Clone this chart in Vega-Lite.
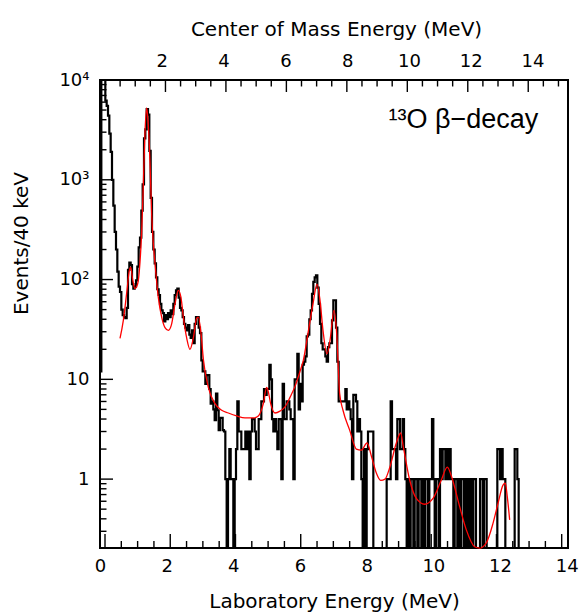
{
  "$schema": "https://vega.github.io/schema/vega-lite/v6.json",
  "width": 468,
  "height": 468,
  "autosize": {"type": "none"},
  "padding": {"left": 100, "top": 80, "right": 15, "bottom": 64},
  "background": "white",
  "config": {
    "view": {"stroke": "black", "strokeWidth": 2},
    "rule": {"color": "black", "strokeWidth": 1.4},
    "bar": {"color": "black", "opacity": 1},
    "axis": {
      "domain": false,
      "ticks": false,
      "grid": false,
      "labelFont": "DejaVu Sans",
      "labelFontSize": 18,
      "labelColor": "black",
      "titleFont": "DejaVu Sans",
      "titleFontSize": 20,
      "titleFontWeight": "normal",
      "titleColor": "black"
    }
  },
  "datasets": {
    "hist": [
      {"e":0.00,"c":12},{"e":0.04,"c":20000},{"e":0.08,"c":15000},{"e":0.12,"c":11000},{"e":0.16,"c":6200},{"e":0.20,"c":5500},{"e":0.24,"c":4400},{"e":0.28,"c":2900},{"e":0.32,"c":1900},{"e":0.36,"c":1000},
      {"e":0.40,"c":550},{"e":0.44,"c":300},{"e":0.48,"c":200},{"e":0.52,"c":120},{"e":0.56,"c":85},{"e":0.60,"c":75},{"e":0.64,"c":50},{"e":0.68,"c":44},{"e":0.72,"c":42},{"e":0.76,"c":41},
      {"e":0.80,"c":52},{"e":0.84,"c":125},{"e":0.88,"c":148},{"e":0.92,"c":140},{"e":0.96,"c":90},{"e":1.00,"c":81},{"e":1.04,"c":85},{"e":1.08,"c":98},{"e":1.12,"c":135},{"e":1.16,"c":210},
      {"e":1.20,"c":263},{"e":1.24,"c":490},{"e":1.28,"c":900},{"e":1.32,"c":2600},{"e":1.36,"c":3200},{"e":1.40,"c":5100},{"e":1.44,"c":4500},{"e":1.48,"c":1950},{"e":1.52,"c":660},{"e":1.56,"c":300},
      {"e":1.60,"c":200},{"e":1.64,"c":145},{"e":1.68,"c":105},{"e":1.72,"c":80},{"e":1.76,"c":70},{"e":1.80,"c":57},{"e":1.84,"c":49},{"e":1.88,"c":46},{"e":1.92,"c":38},{"e":1.96,"c":44},
      {"e":2.00,"c":40},{"e":2.04,"c":46},{"e":2.08,"c":42},{"e":2.12,"c":49},{"e":2.16,"c":45},{"e":2.20,"c":57},{"e":2.24,"c":70},{"e":2.28,"c":78},{"e":2.32,"c":81},{"e":2.36,"c":66},
      {"e":2.40,"c":52},{"e":2.44,"c":49},{"e":2.48,"c":42},{"e":2.52,"c":36},{"e":2.56,"c":33},{"e":2.60,"c":31},{"e":2.64,"c":35},{"e":2.68,"c":28},{"e":2.72,"c":26},{"e":2.76,"c":31},
      {"e":2.80,"c":23},{"e":2.84,"c":36},{"e":2.88,"c":42},{"e":2.92,"c":42},{"e":2.96,"c":33},{"e":3.00,"c":29},{"e":3.04,"c":15.5},{"e":3.08,"c":12},{"e":3.12,"c":12},{"e":3.16,"c":9},
      {"e":3.20,"c":11},{"e":3.24,"c":11},{"e":3.28,"c":8},{"e":3.32,"c":5.7},{"e":3.36,"c":6},{"e":3.40,"c":5},{"e":3.44,"c":3.9},{"e":3.48,"c":7.2},{"e":3.52,"c":4.9},{"e":3.56,"c":3.1},
      {"e":3.60,"c":4.1},{"e":3.64,"c":4.1},{"e":3.68,"c":3.1},{"e":3.72,"c":3},{"e":3.76,"c":1},{"e":3.80,"c":0},{"e":3.84,"c":1},{"e":3.88,"c":2},{"e":3.92,"c":1},{"e":3.96,"c":1},
      {"e":4.00,"c":0},{"e":4.04,"c":1},{"e":4.08,"c":2},{"e":4.12,"c":6},{"e":4.16,"c":3},{"e":4.20,"c":3},{"e":4.24,"c":2},{"e":4.28,"c":2},{"e":4.32,"c":2},{"e":4.36,"c":3},
      {"e":4.40,"c":2},{"e":4.44,"c":3},{"e":4.48,"c":1},{"e":4.52,"c":3},{"e":4.56,"c":4},{"e":4.60,"c":4},{"e":4.64,"c":3},{"e":4.68,"c":2},{"e":4.72,"c":2},{"e":4.76,"c":4},
      {"e":4.80,"c":4},{"e":4.84,"c":6},{"e":4.88,"c":6},{"e":4.92,"c":8},{"e":4.96,"c":7},{"e":5.00,"c":8},{"e":5.04,"c":8},{"e":5.08,"c":14},{"e":5.12,"c":10},{"e":5.16,"c":4},
      {"e":5.20,"c":3},{"e":5.24,"c":4},{"e":5.28,"c":3},{"e":5.32,"c":2},{"e":5.36,"c":4},{"e":5.40,"c":4},{"e":5.44,"c":1},{"e":5.48,"c":9},{"e":5.52,"c":4},{"e":5.56,"c":4},
      {"e":5.60,"c":6},{"e":5.64,"c":6},{"e":5.68,"c":5},{"e":5.72,"c":4},{"e":5.76,"c":4},{"e":5.80,"c":1},{"e":5.84,"c":10},{"e":5.88,"c":10},{"e":5.92,"c":18},{"e":5.96,"c":5},
      {"e":6.00,"c":9},{"e":6.04,"c":6},{"e":6.08,"c":14},{"e":6.12,"c":15},{"e":6.16,"c":17},{"e":6.20,"c":27},{"e":6.24,"c":28},{"e":6.28,"c":40},{"e":6.32,"c":49},{"e":6.36,"c":72},
      {"e":6.40,"c":95},{"e":6.44,"c":105},{"e":6.48,"c":110},{"e":6.52,"c":83},{"e":6.56,"c":57},{"e":6.60,"c":36},{"e":6.64,"c":23},{"e":6.68,"c":20},{"e":6.72,"c":20},{"e":6.76,"c":17},
      {"e":6.80,"c":15},{"e":6.84,"c":21},{"e":6.88,"c":23},{"e":6.92,"c":23},{"e":6.96,"c":39},{"e":7.00,"c":62},{"e":7.04,"c":62},{"e":7.08,"c":33},{"e":7.12,"c":15},{"e":7.16,"c":6},
      {"e":7.20,"c":6},{"e":7.24,"c":6},{"e":7.28,"c":6},{"e":7.32,"c":6},{"e":7.36,"c":8},{"e":7.40,"c":5},{"e":7.44,"c":6},{"e":7.48,"c":5},{"e":7.52,"c":4},{"e":7.56,"c":1},
      {"e":7.60,"c":7},{"e":7.64,"c":7},{"e":7.68,"c":6},{"e":7.72,"c":3},{"e":7.76,"c":4},{"e":7.80,"c":3},{"e":7.84,"c":1},{"e":7.88,"c":0},{"e":7.92,"c":2},{"e":7.96,"c":0},
      {"e":8.00,"c":2},{"e":8.04,"c":3},{"e":8.08,"c":3},{"e":8.12,"c":3},{"e":8.16,"c":3},{"e":8.20,"c":0},{"e":8.24,"c":0},{"e":8.28,"c":0},{"e":8.32,"c":0},{"e":8.36,"c":0},
      {"e":8.40,"c":0},{"e":8.44,"c":0},{"e":8.48,"c":0},{"e":8.52,"c":0},{"e":8.56,"c":0},{"e":8.60,"c":1},{"e":8.64,"c":1},{"e":8.68,"c":1},{"e":8.72,"c":6},{"e":8.76,"c":2},
      {"e":8.80,"c":2},{"e":8.84,"c":2},{"e":8.88,"c":1},{"e":8.92,"c":4},{"e":8.96,"c":4},{"e":9.00,"c":2},{"e":9.04,"c":2},{"e":9.08,"c":4},{"e":9.12,"c":2},{"e":9.16,"c":1},
      {"e":9.20,"c":0},{"e":9.24,"c":1},{"e":9.28,"c":0},{"e":9.32,"c":1},{"e":9.36,"c":1},{"e":9.40,"c":0},{"e":9.44,"c":1},{"e":9.48,"c":1},{"e":9.52,"c":0},{"e":9.56,"c":1},
      {"e":9.60,"c":1},{"e":9.64,"c":0},{"e":9.68,"c":1},{"e":9.72,"c":0},{"e":9.76,"c":1},{"e":9.80,"c":1},{"e":9.84,"c":0},{"e":9.88,"c":1},{"e":9.92,"c":1},{"e":9.96,"c":4},
      {"e":10.00,"c":1},{"e":10.04,"c":0},{"e":10.08,"c":1},{"e":10.12,"c":1},{"e":10.16,"c":0},{"e":10.20,"c":2},{"e":10.24,"c":1},{"e":10.28,"c":2},{"e":10.32,"c":2},{"e":10.36,"c":1},
      {"e":10.40,"c":2},{"e":10.44,"c":1},{"e":10.48,"c":2},{"e":10.52,"c":1},{"e":10.56,"c":1},{"e":10.60,"c":0},{"e":10.64,"c":1},{"e":10.68,"c":1},{"e":10.72,"c":0},{"e":10.76,"c":1},
      {"e":10.80,"c":0},{"e":10.84,"c":1},{"e":10.88,"c":1},{"e":10.92,"c":0},{"e":10.96,"c":1},{"e":11.00,"c":0},{"e":11.04,"c":1},{"e":11.08,"c":0},{"e":11.12,"c":1},{"e":11.16,"c":0},
      {"e":11.20,"c":1},{"e":11.24,"c":1},{"e":11.28,"c":0},{"e":11.32,"c":0},{"e":11.36,"c":0},{"e":11.40,"c":1},{"e":11.44,"c":1},{"e":11.48,"c":0},{"e":11.52,"c":1},{"e":11.56,"c":1},
      {"e":11.60,"c":0},{"e":11.64,"c":0},{"e":11.68,"c":0},{"e":11.72,"c":0},{"e":11.76,"c":0},{"e":11.80,"c":0},{"e":11.84,"c":0},{"e":11.88,"c":0},{"e":11.92,"c":2},{"e":11.96,"c":2},
      {"e":12.00,"c":1},{"e":12.04,"c":2},{"e":12.08,"c":1},{"e":12.12,"c":1},{"e":12.16,"c":0},{"e":12.20,"c":0},{"e":12.24,"c":0},{"e":12.28,"c":0},{"e":12.32,"c":0},{"e":12.36,"c":0},
      {"e":12.40,"c":0},{"e":12.44,"c":2},{"e":12.48,"c":2},{"e":12.52,"c":1},{"e":12.56,"c":0},{"e":12.60,"c":0}
    ],
    "fit": [
      {"e":0.60,"f":25.7},{"e":0.70,"f":39},{"e":0.80,"f":73},{"e":0.88,"f":123},{"e":0.92,"f":133},{"e":0.98,"f":100},{"e":1.05,"f":81},{"e":1.10,"f":85},{"e":1.15,"f":98},{"e":1.20,"f":150},
      {"e":1.25,"f":300},{"e":1.30,"f":900},{"e":1.35,"f":3000},{"e":1.40,"f":5250},{"e":1.45,"f":3500},{"e":1.50,"f":1500},{"e":1.55,"f":450},{"e":1.60,"f":230},{"e":1.65,"f":145},{"e":1.75,"f":66},
      {"e":1.85,"f":42},{"e":1.95,"f":33},{"e":2.05,"f":31},{"e":2.15,"f":36},{"e":2.25,"f":57},{"e":2.35,"f":78},{"e":2.43,"f":66},{"e":2.50,"f":42},{"e":2.60,"f":26},{"e":2.70,"f":20},
      {"e":2.80,"f":26},{"e":2.90,"f":41},{"e":2.95,"f":42},{"e":3.03,"f":29},{"e":3.10,"f":16},{"e":3.25,"f":8.3},{"e":3.45,"f":5.7},{"e":3.65,"f":4.9},{"e":3.85,"f":4.6},{"e":4.10,"f":4.3},
      {"e":4.35,"f":4.1},{"e":4.60,"f":4.1},{"e":4.75,"f":4.3},{"e":4.90,"f":5.7},{"e":5.00,"f":8.3},{"e":5.05,"f":7.5},{"e":5.12,"f":5.7},{"e":5.25,"f":4.6},{"e":5.40,"f":4.8},{"e":5.55,"f":5.3},
      {"e":5.70,"f":6.6},{"e":5.85,"f":8.5},{"e":6.00,"f":12},{"e":6.10,"f":15.5},{"e":6.24,"f":29},{"e":6.39,"f":57},{"e":6.51,"f":90},{"e":6.60,"f":62},{"e":6.69,"f":31},{"e":6.81,"f":18},
      {"e":6.90,"f":24.5},{"e":7.02,"f":49},{"e":7.10,"f":29},{"e":7.19,"f":7.2},{"e":7.29,"f":4.9},{"e":7.49,"f":3.1},{"e":7.69,"f":2.0},{"e":7.84,"f":1.95},{"e":8.01,"f":2.3},{"e":8.15,"f":1.66},
      {"e":8.29,"f":1.15},{"e":8.42,"f":0.97},{"e":8.55,"f":1.0},{"e":8.69,"f":1.3},{"e":8.89,"f":2.3},{"e":9.02,"f":2.9},{"e":9.10,"f":2.1},{"e":9.29,"f":0.98},{"e":9.49,"f":0.64},{"e":9.74,"f":0.56},
      {"e":9.99,"f":0.64},{"e":10.24,"f":0.98},{"e":10.42,"f":1.32},{"e":10.55,"f":1.05},{"e":10.79,"f":0.53},{"e":10.99,"f":0.31},{"e":11.24,"f":0.21},{"e":11.39,"f":0.2},{"e":11.59,"f":0.23},{"e":11.79,"f":0.36},
      {"e":11.94,"f":0.57},{"e":12.09,"f":0.87},{"e":12.16,"f":0.91},{"e":12.22,"f":0.66},{"e":12.29,"f":0.39}
    ],
    "cm": [{"cm":0},{"cm":15.15}],
    "note": [{"label":"¹³O β−decay"}],
    "labMajor": [{"v":0},{"v":2},{"v":4},{"v":6},{"v":8},{"v":10},{"v":12},{"v":14}],
    "labMinor": [{"v":0.5},{"v":1},{"v":1.5},{"v":2.5},{"v":3},{"v":3.5},{"v":4.5},{"v":5},{"v":5.5},{"v":6.5},{"v":7},{"v":7.5},{"v":8.5},{"v":9},{"v":9.5},{"v":10.5},{"v":11},{"v":11.5},{"v":12.5},{"v":13},{"v":13.5}],
    "cmMajor": [{"v":2},{"v":4},{"v":6},{"v":8},{"v":10},{"v":12},{"v":14}],
    "cmMinor": [{"v":0.5},{"v":1},{"v":1.5},{"v":2.5},{"v":3},{"v":3.5},{"v":4.5},{"v":5},{"v":5.5},{"v":6.5},{"v":7},{"v":7.5},{"v":8.5},{"v":9},{"v":9.5},{"v":10.5},{"v":11},{"v":11.5},{"v":12.5},{"v":13},{"v":13.5},{"v":14.5},{"v":15}],
    "yMajor": [{"v":1},{"v":10},{"v":100},{"v":1000}],
    "yMinor": [{"v":0.3},{"v":0.4},{"v":0.5},{"v":0.6},{"v":0.7},{"v":0.8},{"v":0.9},{"v":2},{"v":3},{"v":4},{"v":5},{"v":6},{"v":7},{"v":8},{"v":9},{"v":20},{"v":30},{"v":40},{"v":50},{"v":60},{"v":70},{"v":80},{"v":90},{"v":200},{"v":300},{"v":400},{"v":500},{"v":600},{"v":700},{"v":800},{"v":900},{"v":2000},{"v":3000},{"v":4000},{"v":5000},{"v":6000},{"v":7000},{"v":8000},{"v":9000}]
  },
  "layer": [
    {
      "data": {"name": "hist"},
      "mark": {"type": "line", "interpolate": "step-after", "color": "black", "strokeWidth": 2.2, "invalid": "show"},
      "encoding": {
        "x": {"field": "e", "type": "quantitative",
          "scale": {"domain": [0, 14.04], "nice": false, "zero": false},
          "axis": {"orient": "bottom", "values": [0,2,4,6,8,10,12,14], "labelPadding": 9, "format": "d",
            "title": "Laboratory Energy (MeV)", "titleX": 234, "titleY": 59, "titleAlign": "center", "titleBaseline": "alphabetic", "labelFlush": false}},
        "y": {"field": "c", "type": "quantitative",
          "scale": {"type": "log", "domain": [0.204, 10000], "nice": false, "clamp": true},
          "axis": {"orient": "left", "values": [1,10,100,1000,10000], "labelPadding": 11,
            "labelExpr": "datum.value == 10000 ? '10⁴' : datum.value == 1000 ? '10³' : datum.value == 100 ? '10²' : datum.value == 10 ? '10' : '1'",
            "title": "Events/40 keV", "titleX": -73, "titleY": 163, "titleAngle": -90, "titleAlign": "center", "titleBaseline": "alphabetic", "labelFlush": false}}
      }
    },
    {
      "data": {"name": "fit"},
      "mark": {"type": "line", "interpolate": "monotone", "color": "#ff0000", "strokeWidth": 1.3},
      "encoding": {
        "x": {"field": "e", "type": "quantitative", "scale": {"domain": [0, 14.04], "nice": false, "zero": false}, "axis": null},
        "y": {"field": "f", "type": "quantitative", "scale": {"type": "log", "domain": [0.204, 10000], "nice": false, "clamp": true}, "axis": null}
      }
    },
    {
      "data": {"name": "note"},
      "mark": {"type": "text", "font": "Liberation Sans", "fontSize": 27, "color": "black", "align": "center", "baseline": "middle"},
      "encoding": {
        "x": {"datum": 10.9, "type": "quantitative", "scale": {"domain": [0, 14.04], "nice": false, "zero": false}, "axis": null},
        "y": {"datum": 4000, "type": "quantitative", "scale": {"type": "log", "domain": [0.204, 10000], "nice": false}, "axis": null},
        "text": {"field": "label"}
      }
    },
    {
      "data": {"name": "cm"},
      "mark": {"type": "point", "opacity": 0},
      "encoding": {
        "x": {"field": "cm", "type": "quantitative",
          "scale": {"domain": [0, 15.15], "nice": false, "zero": false},
          "axis": {"orient": "top", "values": [2,4,6,8,10,12,14], "labelPadding": 10, "format": "d",
            "title": "Center of Mass Energy (MeV)", "titleX": 236, "titleY": -45, "titleAlign": "center", "titleBaseline": "alphabetic", "labelFlush": false}}
      }
    },
    {
      "data": {"name": "labMajor"},
      "mark": {"type": "bar", "orient": "vertical", "size": 1.4},
      "encoding": {
        "x": {"field": "v", "type": "quantitative", "scale": {"domain": [0, 14.04], "nice": false, "zero": false}, "axis": null},
        "y": {"datum": -0.6904, "type": "quantitative", "scale": {"type": "linear", "domain": [-0.6904, 4], "nice": false, "zero": false}, "axis": null},
        "y2": {"datum": -0.5504}
      }
    },
    {
      "data": {"name": "labMinor"},
      "mark": {"type": "bar", "orient": "vertical", "size": 1.4},
      "encoding": {
        "x": {"field": "v", "type": "quantitative", "scale": {"domain": [0, 14.04], "nice": false, "zero": false}, "axis": null},
        "y": {"datum": -0.6904, "type": "quantitative", "scale": {"type": "linear", "domain": [-0.6904, 4], "nice": false, "zero": false}, "axis": null},
        "y2": {"datum": -0.6204}
      }
    },
    {
      "data": {"name": "cmMajor"},
      "mark": {"type": "bar", "orient": "vertical", "size": 1.4},
      "encoding": {
        "x": {"field": "v", "type": "quantitative", "scale": {"domain": [0, 15.15], "nice": false, "zero": false}, "axis": null},
        "y": {"datum": 4, "type": "quantitative", "scale": {"type": "linear", "domain": [-0.6904, 4], "nice": false, "zero": false}, "axis": null},
        "y2": {"datum": 3.88}
      }
    },
    {
      "data": {"name": "cmMinor"},
      "mark": {"type": "bar", "orient": "vertical", "size": 1.4},
      "encoding": {
        "x": {"field": "v", "type": "quantitative", "scale": {"domain": [0, 15.15], "nice": false, "zero": false}, "axis": null},
        "y": {"datum": 4, "type": "quantitative", "scale": {"type": "linear", "domain": [-0.6904, 4], "nice": false, "zero": false}, "axis": null},
        "y2": {"datum": 3.935}
      }
    },
    {
      "data": {"name": "yMajor"},
      "mark": {"type": "rule"},
      "encoding": {
        "x": {"datum": 0, "type": "quantitative", "scale": {"domain": [0, 14.04], "nice": false, "zero": false}, "axis": null},
        "x2": {"datum": 0.39},
        "y": {"field": "v", "type": "quantitative", "scale": {"type": "log", "domain": [0.204, 10000], "nice": false}, "axis": null}
      }
    },
    {
      "data": {"name": "yMinor"},
      "mark": {"type": "rule"},
      "encoding": {
        "x": {"datum": 0, "type": "quantitative", "scale": {"domain": [0, 14.04], "nice": false, "zero": false}, "axis": null},
        "x2": {"datum": 0.195},
        "y": {"field": "v", "type": "quantitative", "scale": {"type": "log", "domain": [0.204, 10000], "nice": false}, "axis": null}
      }
    }
  ],
  "resolve": {
    "scale": {"x": "independent", "y": "independent"},
    "axis": {"x": "independent", "y": "independent"}
  }
}
